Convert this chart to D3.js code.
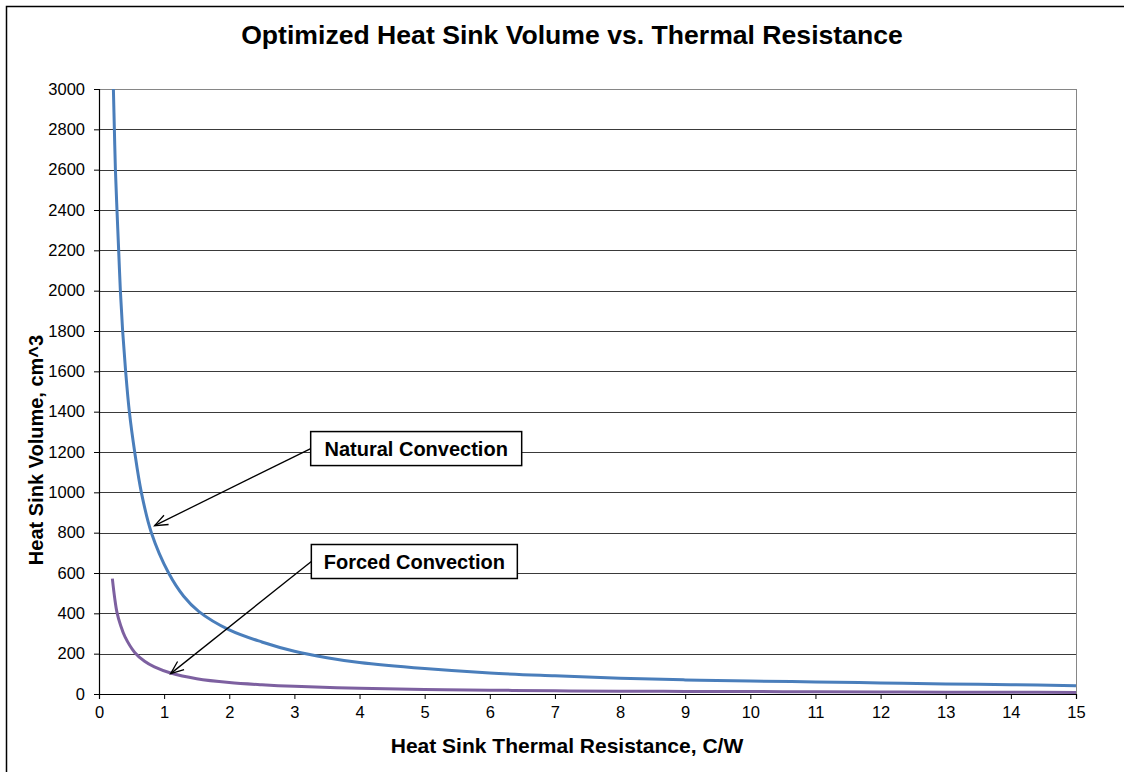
<!DOCTYPE html>
<html>
<head>
<meta charset="utf-8">
<script src="https://cdn.jsdelivr.net/npm/d3@7"></script>
<style>
  body { margin: 0; background: #fff; }
  text { font-family: "Liberation Sans", Arial, sans-serif; fill: #000; }
</style>
</head>
<body>
<div id="chart"></div>
<script>
// data
var naturalR = [0.221, 0.236, 0.252, 0.276, 0.302, 0.328, 0.363, 0.409, 0.466, 0.548, 0.65, 0.804, 1.069, 1.3, 1.53, 2, 2.5, 3, 3.5, 4, 5, 6, 7, 8, 9, 10, 11, 12, 13, 14, 15];
var naturalV = [3000, 2800, 2600, 2400, 2200, 2000, 1800, 1600, 1400, 1200, 1000, 800, 600, 485, 410, 318, 258, 212, 180, 156, 126, 104, 90, 78, 70, 64, 60, 55, 50, 46, 41];

var forcedR = [0.205, 0.24, 0.276, 0.33, 0.4, 0.548, 0.7, 0.85, 1.1, 1.5, 2, 2.5, 3, 4, 5, 6, 7, 8, 9, 10, 11, 12, 13, 14, 15];
var forcedV = [572, 478, 405, 342, 283, 206, 162, 134, 104, 76, 57, 46, 38, 28, 22, 19, 16, 14, 13, 12, 11, 10, 9, 9, 8];

var xTicks = d3.range(0, 16, 1);
var yTicks = d3.range(0, 3001, 200);

var annotations = [
  { label: "Natural Convection", boxR: 3.25, boxV: 1217, tipR: 0.854, tipV: 835, w: 211 },
  { label: "Forced Convection", boxR: 3.26, boxV: 657, tipR: 1.10, tipV: 101, w: 206 }
];

var svgWidth = 1128;
var svgHeight = 772;

var margin = { top: 89, right: 52, bottom: 78, left: 99 };
var width = svgWidth - margin.left - margin.right;
var height = svgHeight - margin.top - margin.bottom;

var svg = d3.select("#chart")
  .append("svg")
  .attr("width", svgWidth)
  .attr("height", svgHeight);

// outer chart frame
svg.append("path")
  .attr("d", "M6.5,772 V6.5 H1124")
  .attr("fill", "none")
  .attr("stroke", "#000")
  .attr("stroke-width", 1.5);

var chartGroup = svg.append("g")
  .attr("transform", `translate(${margin.left}, ${margin.top})`);

var xScale = d3.scaleLinear().domain([0, 15]).range([0, width]);
var yScale = d3.scaleLinear().domain([0, 3000]).range([height, 0]);

// gridlines
chartGroup.append("g")
  .selectAll("line")
  .data(yTicks.filter(d => d > 0))
  .enter()
  .append("line")
  .attr("x1", 0)
  .attr("x2", width)
  .attr("y1", d => Math.round(yScale(d)) + 0.5)
  .attr("y2", d => Math.round(yScale(d)) + 0.5)
  .attr("stroke", d => d === 3000 ? "#868686" : "#3a3a3a")
  .attr("stroke-width", 1);

// right border of plot area
chartGroup.append("line")
  .attr("x1", width + 0.5).attr("x2", width + 0.5)
  .attr("y1", 0).attr("y2", height)
  .attr("stroke", "#868686");

// axes
var bottomAxis = d3.axisBottom(xScale).tickValues(xTicks).tickSize(5).tickPadding(7).tickFormat(d3.format("d"));
var leftAxis = d3.axisLeft(yScale).tickValues(yTicks).tickSize(5).tickPadding(9).tickFormat(d3.format("d"));

var gx = chartGroup.append("g")
  .attr("transform", `translate(0, ${height})`)
  .call(bottomAxis);
var gy = chartGroup.append("g").call(leftAxis);

[gx, gy].forEach(function(g) {
  g.select(".domain").attr("stroke", "#000").attr("stroke-width", 1.2);
  g.selectAll(".tick line").attr("stroke", "#000");
  g.selectAll(".tick text")
    .attr("font-size", 16.5)
    .attr("font-family", "'Liberation Sans', Arial, sans-serif")
    .attr("fill", "#000");
});

// curves
chartGroup.append("clipPath").attr("id", "plotClip")
  .append("rect").attr("x", 0).attr("y", -2).attr("width", width + 2).attr("height", height + 2);

var line = d3.line()
  .x(d => xScale(d[0]))
  .y(d => yScale(d[1]))
  .curve(d3.curveCatmullRom.alpha(0.5));

var naturalData = naturalR.map((r, i) => [r, naturalV[i]]);
var forcedData = forcedR.map((r, i) => [r, forcedV[i]]);

chartGroup.append("path")
  .datum(naturalData)
  .attr("clip-path", "url(#plotClip)")
  .attr("fill", "none")
  .attr("stroke", "#4A7EBB")
  .attr("stroke-width", 3)
  .attr("d", line);

chartGroup.append("path")
  .datum(forcedData)
  .attr("clip-path", "url(#plotClip)")
  .attr("fill", "none")
  .attr("stroke", "#7D60A0")
  .attr("stroke-width", 3)
  .attr("d", line);

// annotations with arrows
annotations.forEach(function(a) {
  var x0 = xScale(a.boxR), y0 = yScale(a.boxV);
  var x1 = xScale(a.tipR), y1 = yScale(a.tipV);
  var ang = Math.atan2(y1 - y0, x1 - x0);
  var len = 14, spread = 0.38;
  chartGroup.append("line")
    .attr("x1", x0).attr("y1", y0)
    .attr("x2", x1).attr("y2", y1)
    .attr("stroke", "#000").attr("stroke-width", 1.3);
  chartGroup.append("path")
    .attr("d", `M${x1 - len * Math.cos(ang - spread)},${y1 - len * Math.sin(ang - spread)} L${x1},${y1} L${x1 - len * Math.cos(ang + spread)},${y1 - len * Math.sin(ang + spread)}`)
    .attr("fill", "none").attr("stroke", "#000").attr("stroke-width", 1.3);
  chartGroup.append("rect")
    .attr("x", x0).attr("y", y0 - 17)
    .attr("width", a.w).attr("height", 34)
    .attr("fill", "#fff").attr("stroke", "#000").attr("stroke-width", 1.5);
  chartGroup.append("text")
    .attr("x", x0 + a.w / 2).attr("y", y0 + 7)
    .attr("text-anchor", "middle")
    .attr("font-size", 20)
    .attr("font-weight", "bold")
    .text(a.label);
});

// titles
svg.append("text")
  .attr("x", 572).attr("y", 44)
  .attr("text-anchor", "middle")
  .attr("font-size", 26.6)
  .attr("font-weight", "bold")
  .text("Optimized Heat Sink Volume vs. Thermal Resistance");

svg.append("text")
  .attr("x", 567).attr("y", 753)
  .attr("text-anchor", "middle")
  .attr("font-size", 21)
  .attr("font-weight", "bold")
  .text("Heat Sink Thermal Resistance, C/W");

svg.append("text")
  .attr("transform", "translate(43, 450) rotate(-90)")
  .attr("text-anchor", "middle")
  .attr("font-size", 20)
  .attr("font-weight", "bold")
  .text("Heat Sink Volume, cm^3");
</script>
</body>
</html>
